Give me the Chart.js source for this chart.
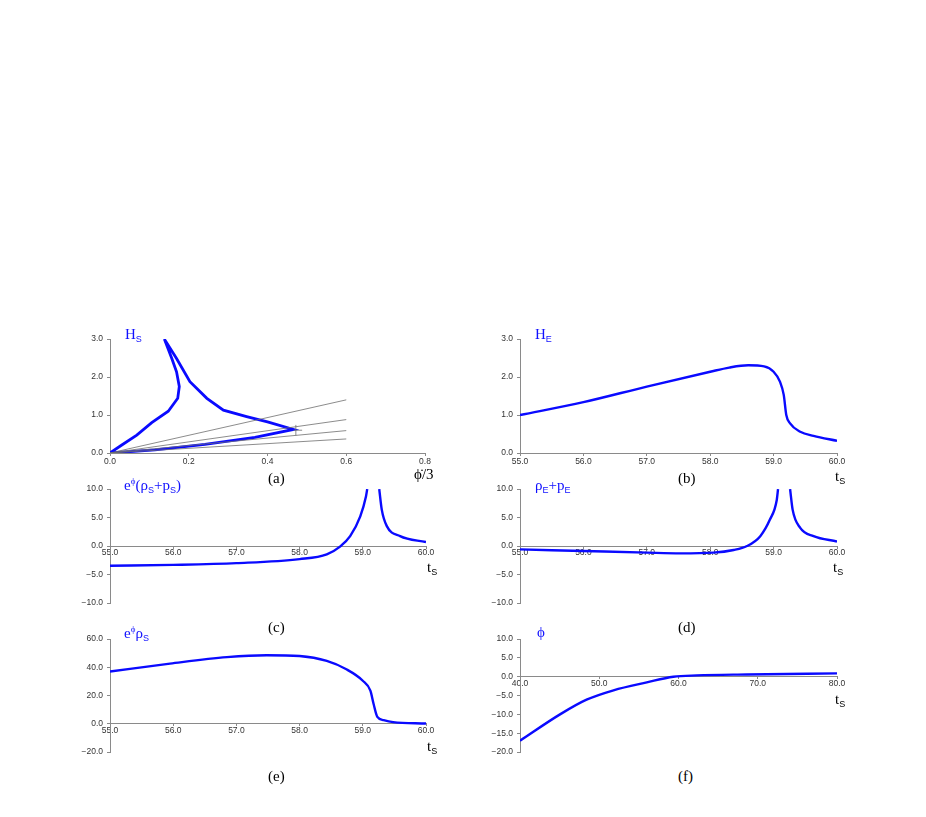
<!DOCTYPE html>
<html>
<head>
<meta charset="utf-8">
<script src="https://cdn.jsdelivr.net/npm/chart.js@4.4.1/dist/chart.umd.min.js"></script>
<style>
  html, body { margin: 0; padding: 0; background: #fff; }
  #page { position: relative; width: 926px; height: 817px; overflow: hidden; }
  canvas { position: absolute; }
  .lbl { position: absolute; font-family: "Liberation Serif", "DejaVu Serif", serif; font-size: 15px; line-height: 1; white-space: nowrap; color: #000; }
  .blue { color: #1010ff; }
  .lbl sub { font-family: "Liberation Sans", Arial, sans-serif; font-size: 9px; vertical-align: -3px; }
  .lbl sup { font-size: 9px; vertical-align: 6px; }
</style>
</head>
<body>
<div id="page">
  <canvas id="cA" width="400" height="145" style="left:60px;top:330px"></canvas>
  <canvas id="cB" width="400" height="145" style="left:470px;top:330px"></canvas>
  <canvas id="cC" width="400" height="135" style="left:60px;top:480px"></canvas>
  <canvas id="cD" width="400" height="135" style="left:470px;top:480px"></canvas>
  <canvas id="cE" width="400" height="135" style="left:60px;top:630px"></canvas>
  <canvas id="cF" width="400" height="135" style="left:470px;top:630px"></canvas>

  <div class="lbl blue" style="left:125px;top:327px">H<sub>S</sub></div>
  <div class="lbl" style="left:268px;top:471px">(a)</div>
  <div class="lbl" style="left:414px;top:467px">&#981;&#775;/3</div>

  <div class="lbl blue" style="left:535px;top:327px">H<sub>E</sub></div>
  <div class="lbl" style="left:678px;top:471px">(b)</div>
  <div class="lbl" style="left:835px;top:469px">t<sub>S</sub></div>

  <div class="lbl blue" style="left:124px;top:477px">e<sup>&#981;</sup>(&#961;<sub>S</sub>+p<sub>S</sub>)</div>
  <div class="lbl" style="left:427px;top:560px">t<sub>S</sub></div>
  <div class="lbl" style="left:268px;top:620px">(c)</div>

  <div class="lbl blue" style="left:535px;top:478px">&#961;<sub>E</sub>+p<sub>E</sub></div>
  <div class="lbl" style="left:833px;top:560px">t<sub>S</sub></div>
  <div class="lbl" style="left:678px;top:620px">(d)</div>

  <div class="lbl blue" style="left:124px;top:625px">e<sup>&#981;</sup>&#961;<sub>S</sub></div>
  <div class="lbl" style="left:427px;top:739px">t<sub>S</sub></div>
  <div class="lbl" style="left:268px;top:769px">(e)</div>

  <div class="lbl blue" style="left:537px;top:625px">&#981;</div>
  <div class="lbl" style="left:835px;top:692px">t<sub>S</sub></div>
  <div class="lbl" style="left:678px;top:769px">(f)</div>
</div>
<script>
// ---- data ----

// (a) H_S against phi-dot/3, a closed loop
const loopPhiDot = [0, 0.114, 0.241, 0.368, 0.466, 0.40, 0.347, 0.288, 0.246, 0.203, 0.169, 0.138,
                    0.157, 0.169, 0.176, 0.172, 0.148, 0.106, 0.068, 0.03, 0];
const loopHS     = [0, 0.08, 0.23, 0.41, 0.62, 0.82, 0.96, 1.13, 1.44, 1.88, 2.49, 3.0,
                    2.49, 2.14, 1.75, 1.44, 1.10, 0.80, 0.47, 0.21, 0];
// thin reference rays from the origin, value at phi-dot/3 = 0.6
const rayEnds = [1.4, 0.88, 0.59, 0.37];
// small cross marker at the loop tip
const markV = { x: [0.472, 0.472], y: [0.46, 0.74] };
const markH = { x: [0.466, 0.488], y: [0.60, 0.60] };

// (b) H_E against t_S
const tB  = [55, 56, 57, 58, 58.3, 58.6, 58.85, 59.0, 59.1, 59.16, 59.2, 59.26, 59.42, 59.63, 60];
const hE  = [1.0, 1.34, 1.75, 2.14, 2.25, 2.31, 2.28, 2.14, 1.88, 1.53, 1.0, 0.78, 0.56, 0.45, 0.32];

// (c) e^phi (rho_S + p_S) — null marks the singular gap
const tC   = [55, 56, 57, 58, 58.43, 58.64, 58.8, 58.96, 59.05, 59.07, 59.16, 59.26, 59.3, 59.38, 59.59, 60];
const rpS  = [-3.45, -3.3, -3.0, -2.3, -1.45, -0.1, 1.74, 5.2, 8.7, 10, null, 10, 6.4, 3.5, 1.74, 0.7];

// (d) rho_E + p_E
const tD   = [55, 56, 57, 57.53, 58.05, 58.37, 58.58, 58.79, 58.94, 59.05, 59.07, 59.16, 59.26, 59.3, 59.42, 59.63, 60];
const rpE  = [-0.58, -0.87, -1.16, -1.28, -1.16, -0.7, 0, 1.74, 4.6, 8.1, 10, null, 10, 6.4, 3.2, 1.74, 0.8];

// (e) e^phi rho_S
const tE   = [55, 55.95, 56.85, 57.48, 58.0, 58.43, 58.74, 59.0, 59.12, 59.17, 59.23, 59.33, 59.48, 60];
const rhoS = [37, 42.6, 47.2, 48.6, 48, 44.5, 38.6, 30.5, 23.5, 14.2, 4.9, 2.6, 1.2, 0.2];

// (f) phi against t_S
const tF   = [40, 45.05, 48.4, 51.8, 56, 59.35, 62.3, 68.6, 80];
const phi  = [-17, -10, -6.1, -3.6, -1.5, 0, 0.35, 0.6, 0.9];

// ---- helpers ----
const BLUE = '#0a0aff';
const AXIS = '#8a8a8a';

function pts(xs, ys){ return xs.map((x, i) => ({ x: x, y: ys[i] })); }

function fmt(v){
  const s = Math.abs(v).toFixed(1);
  return (v < -1e-9 ? '\u2212' : '') + s;
}

function xScale(min, max, step, atZero){
  return {
    type: 'linear', min, max,
    position: atZero ? { y: 0 } : 'bottom',
    border: { display: true, color: AXIS, width: 1 },
    grid: { display: true, drawOnChartArea: false, color: AXIS, tickLength: atZero ? 2 : 3 },
    ticks: { stepSize: step, padding: atZero ? 0 : 1, maxRotation: 0, autoSkip: false,
             color: '#333', font: { family: 'Liberation Sans', size: 8.5 }, callback: fmt },
    afterFit(s){ if (!atZero) s.height = 22; },
  };
}

function yScale(min, max, step){
  return {
    type: 'linear', min, max, position: 'left',
    border: { display: true, color: AXIS, width: 1 },
    grid: { display: true, drawOnChartArea: false, color: AXIS, tickLength: 3 },
    ticks: { stepSize: step, padding: 4, autoSkip: false,
             color: '#333', font: { family: 'Liberation Sans', size: 8.5 }, callback: fmt },
    afterFit(s){ s.width = 50; },
  };
}

function blueLine(data, width, opts){
  return Object.assign({
    data, showLine: true, borderColor: BLUE, borderWidth: width,
    pointRadius: 0, fill: false, spanGaps: false,
    cubicInterpolationMode: 'monotone',
  }, opts || {});
}

function greyLine(data){
  return { data, showLine: true, borderColor: '#6e6e6e', borderWidth: 0.8, pointRadius: 0, tension: 0 };
}

function makePanel(id, datasets, x, y, pad){
  const ctx = document.getElementById(id).getContext('2d');
  return new Chart(ctx, {
    type: 'scatter',
    data: { datasets },
    options: {
      responsive: false, animation: false, devicePixelRatio: 1,
      layout: { autoPadding: false, padding: pad },
      plugins: { legend: { display: false }, tooltip: { enabled: false } },
      scales: { x, y },
    },
  });
}

// ---- panels ----
const rayData = rayEnds.map(v => greyLine([{ x: 0, y: 0 }, { x: 0.6, y: v }]));

makePanel('cA', [
  ...rayData,
  greyLine(pts(markV.x, markV.y)),
  greyLine(pts(markH.x, markH.y)),
  blueLine(pts(loopPhiDot, loopHS), 2.8, { cubicInterpolationMode: 'default', tension: 0 }),
], xScale(0, 0.8, 0.2, false), yScale(0, 3, 1), { top: 9, right: 35, bottom: 0, left: 0 });

makePanel('cB', [ blueLine(pts(tB, hE), 2.4) ],
  xScale(55, 60, 1, false), yScale(0, 3, 1), { top: 9, right: 33, bottom: 0, left: 0 });

makePanel('cC', [ blueLine(pts(tC, rpS), 2.4) ],
  xScale(55, 60, 1, true), yScale(-10, 10, 5), { top: 8, right: 34, bottom: 12, left: 0 });

makePanel('cD', [ blueLine(pts(tD, rpE), 2.4) ],
  xScale(55, 60, 1, true), yScale(-10, 10, 5), { top: 8, right: 33, bottom: 12, left: 0 });

makePanel('cE', [ blueLine(pts(tE, rhoS), 2.4) ],
  xScale(55, 60, 1, true), yScale(-20, 60, 20), { top: 8, right: 34, bottom: 13, left: 0 });

makePanel('cF', [ blueLine(pts(tF, phi), 2.4) ],
  xScale(40, 80, 10, true), yScale(-20, 10, 5), { top: 8, right: 33, bottom: 13, left: 0 });
</script>
</body>
</html>
